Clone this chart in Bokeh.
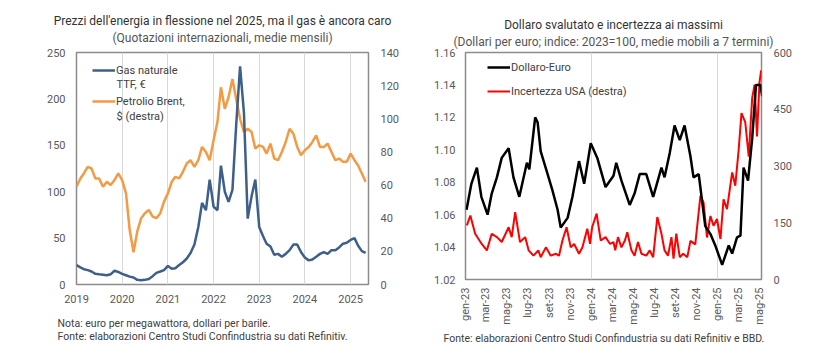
import math
import pandas as pd
from bokeh.plotting import figure
from bokeh.models import (Range1d, LinearAxis, DatetimeAxis, FixedTicker, DatetimeTickFormatter, Label,
                          Title, Legend, LegendItem, ColumnDataSource, NumeralTickFormatter)
from bokeh.layouts import row
from bokeh.embed import file_html
from bokeh.resources import INLINE

# ---------------- data: left chart (monthly, Jan 2019 - May 2025) ----------------
months = pd.date_range("2019-01-01", "2025-05-01", freq="MS")
gas_ttf = [21, 18.5, 16.5, 15.5, 14, 11.5, 11, 10.5, 10, 11, 15, 13.5,
           11.5, 10, 8.5, 7.5, 5, 4.5, 5, 6, 9, 12.5, 14, 15.5,
           20, 17, 17.5, 21, 24, 28, 34, 43, 62, 88, 80, 113,
           84, 80, 128, 100, 89, 102, 172, 235, 185, 71, 95, 113,
           62, 52, 44, 41, 32, 33, 30, 33, 37, 43, 43, 35,
           29, 26, 27, 30, 33, 35, 33, 37, 37, 40, 44, 45,
           48, 50, 42, 36, 34]
brent = [59, 64, 67, 71, 70, 64, 64, 59, 62, 60, 63, 67,
         63, 55, 33, 19.5, 32, 40, 43, 45, 41, 40, 43, 50,
         55, 62, 65, 64, 68, 73, 75, 71, 75, 83, 80, 75,
         87, 98, 119, 106, 113, 124, 112, 100, 92, 94, 92, 82,
         84, 83, 79, 85, 76, 75, 80, 86, 94, 91, 83, 78,
         81, 83, 86, 90, 83, 83, 85, 80, 75, 76, 74, 74,
         79, 75, 72, 67, 62]
year_ticks = ["2019", "2020", "2021", "2022", "2023", "2024", "2025"]
left_ticks = [0, 50, 100, 150, 200, 250]
right_ticks_l = [0, 20, 40, 60, 80, 100, 120, 140]

# ---------------- data: right chart ----------------
usd_dates = ["2023-01-04", "2023-01-18", "2023-02-03", "2023-02-16", "2023-03-06", "2023-03-18",
             "2023-04-02", "2023-04-16", "2023-05-06", "2023-05-20", "2023-06-06", "2023-06-28",
             "2023-07-05", "2023-07-22", "2023-07-29", "2023-08-07", "2023-08-27", "2023-09-10",
             "2023-09-25", "2023-10-04", "2023-10-24", "2023-11-07", "2023-11-26", "2023-12-11",
             "2023-12-30", "2024-01-18", "2024-02-11", "2024-03-05", "2024-03-13", "2024-03-28",
             "2024-04-21", "2024-05-05", "2024-05-20", "2024-06-08", "2024-06-28", "2024-07-22",
             "2024-07-31", "2024-08-15", "2024-08-29", "2024-09-13", "2024-09-27", "2024-10-14",
             "2024-10-23", "2024-11-07", "2024-11-17", "2024-11-26", "2024-12-11", "2024-12-25",
             "2025-01-14", "2025-02-02", "2025-02-12", "2025-02-26", "2025-03-08", "2025-03-17",
             "2025-03-30", "2025-04-11", "2025-04-22", "2025-05-05", "2025-05-10"]
usd_eur = [1.063, 1.079, 1.089, 1.071, 1.060, 1.073,
           1.083, 1.095, 1.101, 1.083, 1.071, 1.092,
           1.088, 1.120, 1.117, 1.099, 1.085, 1.075,
           1.063, 1.052, 1.058, 1.071, 1.093, 1.079,
           1.104, 1.095, 1.077, 1.084, 1.092, 1.081,
           1.066, 1.073, 1.085, 1.085, 1.071, 1.089,
           1.083, 1.098, 1.115, 1.106, 1.115, 1.096,
           1.083, 1.085, 1.068, 1.053, 1.048, 1.041,
           1.029, 1.041, 1.036, 1.046, 1.047, 1.089,
           1.081, 1.107, 1.140, 1.140, 1.133]
unc_dates = ["2023-01-05", "2023-01-15", "2023-01-29", "2023-02-17", "2023-03-04", "2023-03-18",
             "2023-04-02", "2023-04-16", "2023-05-06", "2023-05-15", "2023-05-25", "2023-06-08",
             "2023-06-23", "2023-07-03", "2023-07-17", "2023-07-31", "2023-08-07", "2023-08-22",
             "2023-09-05", "2023-09-20", "2023-09-29", "2023-10-09", "2023-10-21", "2023-11-02",
             "2023-11-12", "2023-11-26", "2023-12-06", "2023-12-20", "2023-12-28", "2024-01-03",
             "2024-01-16", "2024-01-28", "2024-02-11", "2024-02-24", "2024-03-05", "2024-03-10",
             "2024-03-18", "2024-03-28", "2024-04-07", "2024-04-14", "2024-04-26", "2024-05-05",
             "2024-05-15", "2024-05-25", "2024-06-08", "2024-06-18", "2024-06-28", "2024-07-10",
             "2024-07-22", "2024-07-31", "2024-08-10", "2024-08-20", "2024-08-26", "2024-09-03",
             "2024-09-13", "2024-09-23", "2024-10-05", "2024-10-14", "2024-10-28", "2024-11-12",
             "2024-11-21", "2024-12-01", "2024-12-11", "2024-12-20", "2024-12-30", "2025-01-09",
             "2025-01-18", "2025-01-28", "2025-02-12", "2025-02-21", "2025-03-03", "2025-03-11",
             "2025-03-22", "2025-04-01", "2025-04-11", "2025-04-18", "2025-04-25", "2025-05-02",
             "2025-05-07"]
unc_usa = [143, 169, 121, 94, 77, 121,
           112, 99, 138, 112, 178, 99,
           112, 77, 63, 77, 59, 85,
           63, 68, 63, 103, 138, 85,
           94, 68, 85, 134, 94, 138,
           174, 103, 112, 94, 99, 77,
           112, 85, 103, 125, 77, 63,
           99, 68, 63, 77, 59, 165,
           121, 77, 63, 112, 55, 121,
           59, 68, 59, 102, 93, 221,
           204, 111, 168, 142, 160, 107,
           212, 186, 283, 248, 345, 440,
           415, 325, 480, 515, 378, 520,
           553]
month_tick_dates = ["2023-01-01", "2023-03-01", "2023-05-01", "2023-07-01", "2023-09-01", "2023-11-01",
                    "2024-01-01", "2024-03-01", "2024-05-01", "2024-07-01", "2024-09-01", "2024-11-01",
                    "2025-01-01", "2025-03-01", "2025-05-01"]
month_tick_labels = ["gen-23", "mar-23", "mag-23", "lug-23", "set-23", "nov-23",
                     "gen-24", "mar-24", "mag-24", "lug-24", "set-24", "nov-24",
                     "gen-25", "mar-25", "mag-25"]
usd_ticks = [1.02, 1.04, 1.06, 1.08, 1.10, 1.12, 1.14, 1.16]
unc_ticks = [0, 150, 300, 450, 600]


def ms(dates):
    return [float(v) / 1e6 for v in pd.to_datetime(dates).asi8]


FONT = "Roboto"
TICK_COL = "#595959"
TXT_COL = "#404040"
GRID_COL = "#D9D9D9"
FRAME_COL = "#8C8C8C"


def style_axis(ax, standoff):
    ax.axis_line_color = None
    ax.major_tick_line_color = None
    ax.minor_tick_line_color = None
    ax.major_tick_in = 0
    ax.major_tick_out = 0
    ax.major_label_text_font = FONT
    ax.major_label_text_font_size = "11px"
    ax.major_label_text_color = TICK_COL
    ax.major_label_standoff = standoff


def add_label(p, fx, fy, x, y, text, size="11px", color=TXT_COL):
    # inside-frame text; x, y page coords; fx = frame left, fy = frame bottom
    p.add_layout(Label(x=x - fx, y=fy - y, x_units="screen", y_units="screen", text=text,
                       text_font=FONT, text_font_size=size, text_color=color,
                       text_align="left", text_baseline="middle"))


def add_title(p, side, text, size, color, align="center", offset=0, standoff=0, line_height=1.2):
    p.add_layout(Title(text=text, align=align, offset=offset, standoff=standoff,
                       text_font=FONT, text_font_size=size, text_color=color,
                       text_font_style="normal", text_line_height=line_height), side)


def add_subtitle(p, text, standoff):
    # subtitle drawn as the label of an empty axis above the frame (centred, one-sided standoff)
    ax = DatetimeAxis(ticker=FixedTicker(ticks=[]), axis_label=text)
    ax.axis_line_color = None
    ax.major_tick_line_color = None
    ax.minor_tick_line_color = None
    ax.major_tick_in = 0
    ax.major_tick_out = 0
    ax.major_label_text_font_size = "0px"
    ax.major_label_standoff = 0
    ax.axis_label_standoff = standoff
    ax.axis_label_text_font = FONT
    ax.axis_label_text_font_size = "12px"
    ax.axis_label_text_font_style = "normal"
    ax.axis_label_text_color = "#555555"
    p.add_layout(ax, "above")


def legend_item(p, r, label, x, y):
    leg = Legend(items=[LegendItem(label=label, renderers=[r])], location=(x, y),
                 padding=0, margin=0, spacing=0, glyph_width=23, glyph_height=16,
                 label_height=16, label_standoff=1, border_line_color=None,
                 background_fill_alpha=0, label_text_font=FONT, label_text_font_size="11px",
                 label_text_color=TXT_COL)
    p.add_layout(leg)


# ---------------- left figure ----------------
LFX, LFB = 76, 284  # frame left / bottom on page
p1 = figure(frame_width=292, frame_height=232, x_axis_type="datetime",
            x_range=Range1d(ms(["2019-01-01"])[0], ms(["2025-05-24"])[0]),
            y_range=Range1d(0, 250), output_backend="svg", toolbar_location=None,
            min_border_left=76, min_border_right=50, min_border_top=52, min_border_bottom=72)
p1.extra_y_ranges = {"brent": Range1d(0, 140)}
p1.outline_line_color = FRAME_COL
p1.outline_line_width = 1.5
p1.background_fill_color = "white"
p1.border_fill_color = "white"

yr_ms = ms([y + "-01-01" for y in year_ticks])
p1.xaxis.ticker = FixedTicker(ticks=yr_ms)
p1.xaxis.formatter = DatetimeTickFormatter(years="%Y", months="%Y", days="%Y")
p1.yaxis.ticker = FixedTicker(ticks=left_ticks)
p1.xgrid.ticker = FixedTicker(ticks=yr_ms)
p1.xgrid.grid_line_color = GRID_COL
p1.ygrid.grid_line_color = None
ax_r1 = LinearAxis(y_range_name="brent", ticker=FixedTicker(ticks=right_ticks_l))
p1.add_layout(ax_r1, "right")
style_axis(p1.xaxis[0], 10)
style_axis(p1.yaxis[0], 11)
style_axis(ax_r1, 12)

src1 = ColumnDataSource(dict(x=ms(months), gas=gas_ttf, brent=brent))
r_brent = p1.line("x", "brent", source=src1, y_range_name="brent", line_color="#F39B44", line_width=2.5)
r_gas = p1.line("x", "gas", source=src1, line_color="#3E5F8A", line_width=2.5)

legend_item(p1, r_gas, "Gas naturale", 16, 206)
legend_item(p1, r_brent, "Petrolio Brent,", 16, 175)
add_label(p1, LFX, LFB, 116, 84, "TTF, €")
add_label(p1, LFX, LFB, 116, 116, "$ (destra)")

add_subtitle(p1, "(Quotazioni internazionali, medie mensili)", 8)
add_title(p1, "above", "Prezzi dell'energia in flessione nel 2025, ma il gas è ancora caro",
          "12px", "#333333")
add_title(p1, "below",
          "Nota: euro per megawattora, dollari per barile.\n"
          "Fonte: elaborazioni Centro Studi Confindustria su dati Refinitiv.",
          "10.5px", TXT_COL, align="left", offset=-19, standoff=18, line_height=1.07)

# ---------------- right figure ----------------
RFX, RFB = 465, 279
p2 = figure(frame_width=296, frame_height=227, x_axis_type="datetime",
            x_range=Range1d(ms(["2023-01-01"])[0], ms(["2025-05-08"])[0]),
            y_range=Range1d(1.02, 1.16), output_backend="svg", toolbar_location=None,
            min_border_left=47, min_border_right=56, min_border_top=52, min_border_bottom=75)
p2.extra_y_ranges = {"unc": Range1d(0, 600)}
p2.outline_line_color = FRAME_COL
p2.outline_line_width = 1.5
p2.background_fill_color = "white"
p2.border_fill_color = "white"

mt_ms = ms(month_tick_dates)
p2.xaxis.ticker = FixedTicker(ticks=mt_ms)
p2.xaxis.major_label_overrides = {t: lab for t, lab in zip(mt_ms, month_tick_labels)}
p2.xaxis.major_label_orientation = math.pi / 2
p2.yaxis.ticker = FixedTicker(ticks=usd_ticks)
p2.yaxis.formatter = NumeralTickFormatter(format="0.00")
p2.xgrid.ticker = FixedTicker(ticks=ms(["2024-01-01", "2025-01-01"]))
p2.xgrid.grid_line_color = GRID_COL
p2.ygrid.grid_line_color = None
ax_r2 = LinearAxis(y_range_name="unc", ticker=FixedTicker(ticks=unc_ticks))
p2.add_layout(ax_r2, "right")
style_axis(p2.xaxis[0], 8)
style_axis(p2.yaxis[0], 10)
style_axis(ax_r2, 12)

src_usd = ColumnDataSource(dict(x=ms(usd_dates), y=usd_eur))
src_unc = ColumnDataSource(dict(x=ms(unc_dates), y=unc_usa))
r_unc = p2.line("x", "y", source=src_unc, y_range_name="unc", line_color="#FF0000", line_width=2)
r_usd = p2.line("x", "y", source=src_usd, line_color="#000000", line_width=2.5)

legend_item(p2, r_usd, "Dollaro-Euro", 22, 204)
legend_item(p2, r_unc, "Incertezza USA (destra)", 22, 180)

add_subtitle(p2, "(Dollari per euro; indice: 2023=100, medie mobili a 7 termini)", 4)
add_title(p2, "above", "Dollaro svalutato e incertezza ai massimi", "12px", "#333333")
add_title(p2, "below", "Fonte: elaborazioni Centro Studi Confindustria su dati Refinitiv e BBD.", "10.5px",
          TXT_COL, align="left", offset=-22, standoff=4)

layout = row(p1, p2)
open("out.html", "w").write(file_html(layout, INLINE))
